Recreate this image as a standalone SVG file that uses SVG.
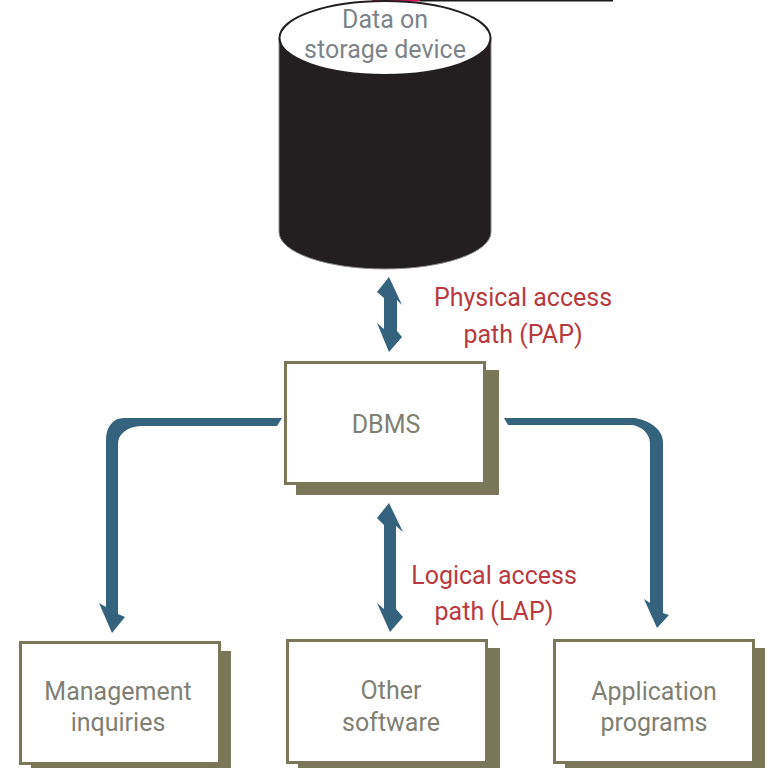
<svg xmlns="http://www.w3.org/2000/svg" width="776" height="768" viewBox="0 0 776 768">
<style>
.box{fill:#fff;stroke:#7a7658;stroke-width:3}
.sh{fill:#7a7658}
.ar{fill:#35627c}
text{font-family:"Roboto","Liberation Sans",sans-serif;font-size:25px;text-anchor:middle}
.n{fill:#7f7f74}
.d{fill:#7d8489}
.r{fill:#b8393f}
</style>
<rect width="776" height="768" fill="#fff"/>
<g id="top-rule">
<rect x="372" y="0" width="48" height="1.500" fill="#e0105f"/>
<rect x="420" y="0" width="193" height="1.500" fill="#1a1a1a"/>
</g>
<g id="storage">
<path d="M279 38V232A106 37 0 0 0 491 232V38Z" fill="#231f20" stroke="#8a8a8a" stroke-width="1"/>
<ellipse cx="385" cy="38" rx="105.500" ry="37" fill="#fff" stroke="#231f20" stroke-width="2"/>
<text class="d" x="385" y="28">Data on</text>
<text class="d" x="385" y="58">storage device</text>
</g>
<g id="connectors">
<path class="ar" d="M389 277L402 305L397 300V331L402 337L389 352L377 323L384 329V298L377 292Z"/>
<path class="ar" d="M389 503L403 532L396 526V609L403 617L390 632L377 603L384 609V525L377 518Z"/>
<path class="ar" d="M282 418L277 426H140C127 427 118 434 118 444V614L125 617L112 633L99 603L106 607V440C106 427 113 418 124 418Z"/>
<path class="ar" d="M504 418H635C652 421 663 431 663 442V613L669 615L657 628L644 599L650 603V443C650 433 640 425 630 425H508Z"/>
</g>
<text class="r" x="523" y="306">Physical access</text>
<text class="r" x="523" y="343">path (PAP)</text>
<text class="r" x="494" y="584">Logical access</text>
<text class="r" x="494" y="620">path (LAP)</text>
<g id="dbms">
<rect class="sh" x="296" y="370" width="203" height="125"/>
<rect class="box" x="285.500" y="362.500" width="199" height="121"/>
<text class="n" x="386" y="433">DBMS</text>
</g>
<g id="management">
<rect class="sh" x="31" y="651" width="200" height="117"/>
<rect class="box" x="20.500" y="642.500" width="199" height="121"/>
<text class="n" x="118" y="700">Management</text>
<text class="n" x="118" y="731">inquiries</text>
</g>
<g id="other">
<rect class="sh" x="298" y="648" width="202" height="120"/>
<rect class="box" x="287.500" y="640.500" width="199" height="122"/>
<text class="n" x="391" y="699">Other</text>
<text class="n" x="391" y="731">software</text>
</g>
<g id="application">
<rect class="sh" x="565" y="648" width="200" height="120"/>
<rect class="box" x="554.500" y="640.500" width="199" height="122"/>
<text class="n" x="654" y="700">Application</text>
<text class="n" x="654" y="731">programs</text>
</g>
</svg>
